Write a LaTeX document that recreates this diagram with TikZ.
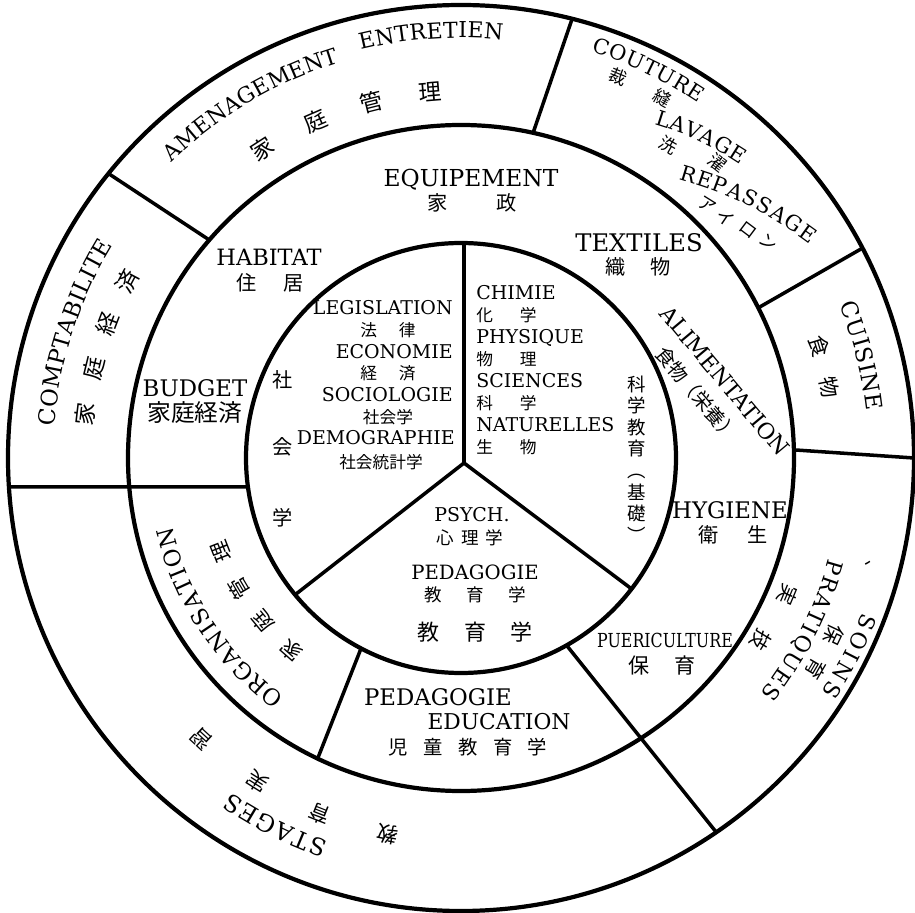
\documentclass[tikz,border=0pt]{standalone}
\usepackage{fontspec}
\usepackage{graphicx}
\usetikzlibrary{decorations.text}
\setmainfont{DejaVu Serif}
\newfontfamily\jpfont{Noto Sans CJK JP}

\begin{document}
\begin{tikzpicture}[
    x=0.02cm, y=0.02cm,
    ring/.style={line width=2.4pt},
    sep/.style={line width=2pt},
    lab/.style={inner sep=0pt, align=center, font=\fontsize{13}{15}\selectfont},
    inlab/.style={inner sep=0pt, align=center, font=\fontsize{10.8}{12.5}\selectfont},
    jp/.style={inner sep=0pt, align=center, font=\jpfont\fontsize{11.5}{13}\selectfont},
    jpsmall/.style={inner sep=0pt, align=center, font=\jpfont\fontsize{10}{12}\selectfont},
    jptiny/.style={inner sep=0pt, align=center, font=\jpfont\fontsize{9.5}{11}\selectfont},
    curved/.style 2 args={decorate, decoration={text along path, text align={fit to path},
        raise={-0.36pt*#1}, text={|\fontsize{#1}{#1}\selectfont|#2}}},
    jcurved/.style 2 args={decorate, decoration={text along path, text align={fit to path},
        raise={-0.38pt*#1}, text={|\jpfont\fontsize{#1}{#1}\selectfont|#2}}}
]
    \useasboundingbox (-461,-454) rectangle (454,458);

    % rings
    \coordinate (c) at (0,0);
    \draw[ring] (c) circle[radius=453];
    \draw[ring] (c) circle[radius=333];
    \draw[ring] (c) circle[radius=215];

    % inner sectors
    \coordinate (j) at (3,-5);
    \draw[sep] (j) -- (3,215);
    \draw[sep] (j) -- (-37.5:215);
    \draw[sep] (j) -- (219.5:215);

    % middle ring
    \draw[sep] (187.75:215) -- (183.67:453);
    \draw[sep] (242.3:215) -- (244.5:333);
    \draw[sep] (-60.6:215) -- (-55.7:453);

    % outer ring
    \draw[sep] (1.4:333) -- (0:453);
    \draw[sep] (26.8:333) -- (27.6:453);
    \draw[sep] (77.5:333) -- (75.8:453);
    \draw[sep] (139.1:333) -- (141.1:453);

    % inner circle
    \node[inlab, anchor=east] (legis) at (-8,150) {LEGISLATION};
    \node[jptiny] (horitsu) at (-73,128) {法\hspace{1.3em}律};
    \node[inlab, anchor=east] (econ) at (-8,106) {ECONOMIE};
    \node[jptiny] (keizai) at (-73,85) {経\hspace{1.3em}済};
    \node[inlab, anchor=east] (socio) at (-8,63) {SOCIOLOGIE};
    \node[jptiny] (shakai) at (-73,41) {社会学};
    \node[inlab, anchor=east] (demo) at (-6,20) {DEMOGRAPHIE};
    \node[jptiny] (tokei) at (-80,-4) {社会統計学};
    \node[jp] (sha) at (-178,78) {社};
    \node[jp] (kai) at (-178,11) {会};
    \node[jp] (gaku) at (-178,-60) {学};

    \node[inlab, anchor=west, align=left] (sci) at (15,88) {CHIMIE\\{\jpfont\fontsize{9.5}{11}\selectfont 化\hspace{1.6em}学}\\PHYSIQUE\\{\jpfont\fontsize{9.5}{11}\selectfont 物\hspace{1.6em}理}\\SCIENCES\\{\jpfont\fontsize{9.5}{11}\selectfont 科\hspace{1.6em}学}\\NATURELLES\\{\jpfont\fontsize{9.5}{11}\selectfont 生\hspace{1.6em}物}};
    \node[jp, font=\jpfont\fontsize{10.5}{12.3}\selectfont] (kagaku) at (176,-1) {科\\学\\教\\育\\︵\\基\\礎\\︶};

    \node[inlab] (psych) at (11,-57) {PSYCH.};
    \node[jpsmall] (shinri) at (9,-80) {心\hspace{0.4em}理\hspace{0.4em}学};
    \node[inlab, font=\fontsize{11.2}{13}\selectfont] (peda) at (14,-114) {PEDAGOGIE};
    \node[jpsmall] (kyo) at (14,-137) {教\hspace{1.4em}育\hspace{1.4em}学};
    \node[jp, font=\jpfont\fontsize{12.5}{14}\selectfont] (kyoiku) at (14,-174) {教\hspace{1.1em}育\hspace{1.1em}学};

    % middle ring
    \node[lab, font=\fontsize{13.3}{15}\selectfont] (equip) at (10,278) {EQUIPEMENT};
    \node[jp] (kasei) at (11,255) {家\hspace{2.4em}政};
    \node[lab, font=\fontsize{12.8}{15}\selectfont] (habitat) at (-192,201) {HABITAT};
    \node[jp] (jukyo) at (-191,175) {住\hspace{1.3em}居};
    \node[lab] (budget) at (-266,70) {BUDGET};
    \node[jp, font=\jpfont\fontsize{13.5}{15}\selectfont] (kakei) at (-266,45) {家庭経済};
    \node[lab, font=\fontsize{13.8}{15}\selectfont] (textiles) at (178,215) {TEXTILES};
    \node[jp] (orimono) at (177,191) {織\hspace{1.2em}物};
    \node[lab, font=\fontsize{12.6}{15}\selectfont, rotate=-50] (aliment) at (264,77) {ALIMENTATION};
    \node[jp, rotate=-50, font=\jpfont\fontsize{11}{13}\selectfont] (eiyo) at (236,64) {食物（栄養）};
    \node[lab] (hygiene) at (269,-52) {HYGIENE};
    \node[jp] (eisei) at (272,-77) {衛\hspace{1.4em}生};
    \node[inlab, font=\fontsize{11}{13}\selectfont] (pueri) at (204,-182) {\scalebox{0.82}[1]{PUERICULTURE}};
    \node[jp, font=\jpfont\fontsize{12}{14}\selectfont] (hoiku) at (201,-207) {保\hspace{1.2em}育};
    \node[lab] (peda2) at (-23,-239) {PEDAGOGIE};
    \node[lab, font=\fontsize{12.4}{15}\selectfont] (educ) at (38,-264) {EDUCATION};
    \node[jp, font=\jpfont\fontsize{11}{13}\selectfont] (jido) at (7,-289) {児\hspace{0.8em}童\hspace{0.8em}教\hspace{0.8em}育\hspace{0.8em}学};
    \path[curved={13}{ORGANISATION}] (233.5:305) arc[start angle=233.5, end angle=193.4, radius=305];
    \path[jcurved={12}{家庭管理}] (231:257) arc[start angle=231, end angle=199, radius=257];

    % outer ring
    \path[curved={12.5}{AMENAGEMENT}] (134.3:421.5) arc[start angle=134.3, end angle=107.1, radius=421.5];
    \path[curved={12.5}{ENTRETIEN}] (103.8:428) arc[start angle=103.8, end angle=84.3, radius=428];
    \path[jcurved={13}{家庭管理}] (124.5:367) arc[start angle=124.5, end angle=93, radius=367];
    \path[curved={13}{COMPTABILITE}] (175.5:416) arc[start angle=175.5, end angle=148.5, radius=416];
    \path[jcurved={13}{家庭経済}] (175.1:378) arc[start angle=175.1, end angle=150.4, radius=378];
    \path[curved={12}{COUTURE}] (72.2:434.5) arc[start angle=72.2, end angle=56.2, radius=434.5];
    \node[jpsmall, rotate=-22.4] (sai) at (67.6:412) {裁};
    \node[jpsmall, rotate=-29.2] (ho) at (60.8:412) {縫};
    \path[curved={12}{LAVAGE}] (195.7,341) to[bend left=8] (283.3,300);
    \node[jpsmall, rotate=-30] (sen) at (207,313) {洗};
    \node[jpsmall, rotate=-38] (taku) at (256,295) {濯};
    \path[curved={12}{REPASSAGE}] (219.7,286) to[bend left=10] (353.3,219.9);
    \node[jpsmall, rotate=-32] (a) at (246,253) {ア};
    \node[jpsmall, rotate=-34] (i) at (264,240) {イ};
    \node[jpsmall, rotate=-37] (ro) at (287,228) {ロ};
    \node[jpsmall, rotate=-40] (n) at (307,216) {ン};
    \path[curved={13}{CUISINE}] (22:416.5) arc[start angle=22, end angle=6.6, radius=416.5];
    \node[jp, font=\jpfont\fontsize{12}{14}\selectfont, rotate=-72.7] (shoku) at (17.3:375) {食};
    \node[jp, font=\jpfont\fontsize{12}{14}\selectfont, rotate=-79.1] (motsu) at (10.9:375) {物};
    \node[jpsmall, rotate=-105] (ten) at (406,-110) {、};
    \path[curved={12.5}{SOINS}] (-21:438) arc[start angle=-21, end angle=-33, radius=438];
    \node[jp, rotate=-115.4] (ho2) at (-25.4:413) {保};
    \node[jp, rotate=-120.5] (iku2) at (-30.8:413) {育};
    \path[curved={12.5}{PRATIQUES}] (-15.3:389) arc[start angle=-15.3, end angle=-38.1, radius=389];
    \node[jp, rotate=-112.7] (jitsu) at (-22.7:354) {実};
    \node[jp, rotate=-121.3] (gi) at (-31.3:351) {技};
    \path[curved={13.5}{STAGES}] (-109.1:414) arc[start angle=-109.1, end angle=-124.5, radius=414];
    \path[jcurved={12}{教育実習}] (-99.5:383) arc[start angle=-99.5, end angle=-134.3, radius=383];
\end{tikzpicture}
\end{document}
